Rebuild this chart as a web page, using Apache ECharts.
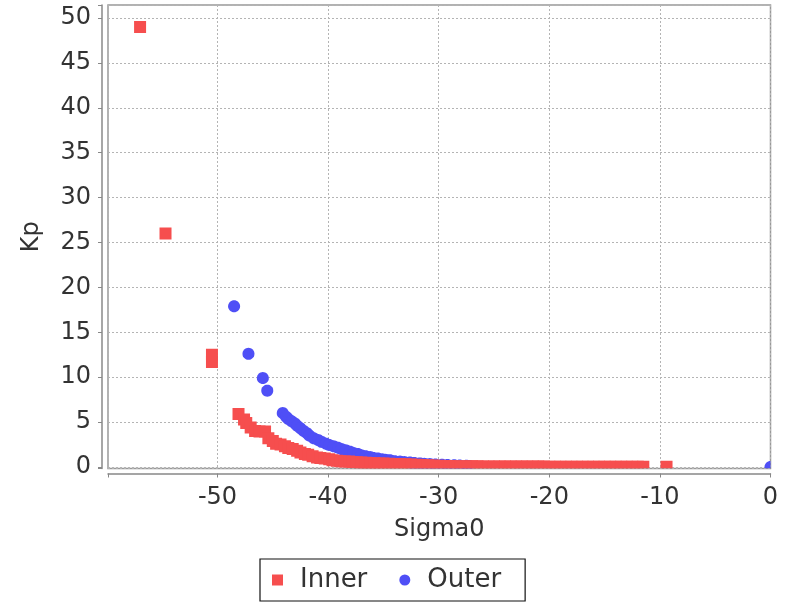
<!DOCTYPE html>
<html>
<head>
<meta charset="utf-8">
<script src="https://cdn.jsdelivr.net/npm/echarts@6/dist/echarts.min.js"></script>
<style>
html,body{margin:0;padding:0;background:#fff;}
#chart{width:795px;height:602px;}
</style>
</head>
<body>
<div id="chart"></div>
<script>
// Inner series (red squares): Sigma0 values and Kp values
const innerX = [-57.0, -54.7, -50.5, -50.5, -48.1, -47.6, -47.4, -47.0, -46.6, -46.2, -45.7, -45.4, -45.0, -44.7, -44.3, -43.9, -43.6, -43.2, -42.8, -42.5, -42.1, -41.8, -41.4, -41.0, -40.7, -40.3, -39.9, -39.6, -39.2, -38.9, -38.5, -38.1, -37.8, -37.4, -37.0, -36.6, -36.2, -35.8, -35.4, -35.0, -34.5, -34.0, -33.5, -33.0, -32.5, -32.0, -31.5, -31.0, -30.5, -30.0, -29.5, -29.0, -28.5, -28.0,
  -27.5, -27.0, -26.5, -26.0, -25.5, -25.0, -24.5, -24.0, -23.5, -23.0, -22.5, -22.0, -21.5, -21.0, -20.5, -20.0, -19.5, -19.0, -18.5, -18.0, -17.5, -17.0, -16.5, -16.0, -15.5, -15.0, -14.5, -14.0, -13.5, -13.0, -12.5, -12.0, -11.5, -9.4];
const innerY = [49.0, 26.0, 12.5, 11.7, 5.9, 5.3, 4.9, 4.4, 4.0, 3.95, 3.95, 3.2, 2.9, 2.6, 2.5, 2.3, 2.1, 2.0, 1.8, 1.6, 1.45, 1.35, 1.2, 1.05, 1.0, 0.95, 0.85, 0.75, 0.7, 0.65, 0.6, 0.6, 0.55, 0.52, 0.5, 0.47, 0.45, 0.42, 0.4, 0.38, 0.36, 0.34, 0.32, 0.3, 0.27, 0.25, 0.22, 0.2, 0.17, 0.14, 0.12, 0.1, 0.09, 0.08,
  0.07, 0.07, 0.07, 0.06, 0.06, 0.06, 0.05, 0.05, 0.05, 0.05, 0.04, 0.04, 0.04, 0.04, 0.04, 0.03, 0.03, 0.03, 0.03, 0.03, 0.03, 0.03, 0.02, 0.02, 0.02, 0.02, 0.02, 0.02, 0.02, 0.02, 0.02, 0.02, 0.02, 0.02];
// Outer series (blue circles)
const outerX = [-48.5, -47.2, -45.9, -45.5, -44.1, -43.8, -43.6, -43.3, -43.0, -42.8, -42.5, -42.2, -41.9, -41.7, -41.3, -40.9, -40.6, -40.2, -39.9, -39.5, -39.1, -38.8, -38.4, -38.0, -37.7, -37.3, -37.0, -36.6, -36.2, -35.9, -35.5, -35.1, -34.8, -34.4, -34.0, -33.5, -33.1, -32.6, -32.2, -31.7, -31.3, -30.8, -30.3, -29.7, -29.2, -28.6, -28.1, -27.5, -27.3, 0.0];
const outerY = [17.9, 12.6, 9.9, 8.5, 6.0, 5.6, 5.35, 5.1, 4.85, 4.6, 4.3, 4.0, 3.75, 3.5, 3.2, 3.0, 2.8, 2.6, 2.45, 2.3, 2.15, 2.0, 1.85, 1.7, 1.55, 1.45, 1.3, 1.2, 1.1, 1.0, 0.95, 0.85, 0.8, 0.75, 0.65, 0.6, 0.55, 0.5, 0.45, 0.4, 0.35, 0.32, 0.28, 0.25, 0.22, 0.2, 0.17, 0.14, 0.12, 0.0];

const seriesNames = ['Inner', 'Outer'];
const xName = 'Sigma0';
const yName = 'Kp';

const zip = (xs, ys) => xs.map((x, i) => [x, ys[i]]);
const FONT = 'DejaVu Sans';
const TXT = '#333';
const AXC = '#888';
const SYM = 12;

// clamp polygon vertices into the plot rectangle (exact for rects, close for circles)
function clampPts(pts, cs) {
  const x0 = cs.x, x1 = cs.x + cs.width, y0 = cs.y, y1 = cs.y + cs.height;
  return pts.map(([x, y]) => [Math.min(x1, Math.max(x0, x)), Math.min(y1, Math.max(y0, y))]);
}
function renderSquare(params, api) {
  const p = api.coord([api.value(0), api.value(1)]);
  const h = SYM / 2;
  const pts = clampPts([[p[0] - h, p[1] - h], [p[0] + h, p[1] - h], [p[0] + h, p[1] + h], [p[0] - h, p[1] + h]], params.coordSys);
  return {type: 'polygon', shape: {points: pts}, style: {fill: api.visual('color')}};
}
function renderCircle(params, api) {
  const p = api.coord([api.value(0), api.value(1)]);
  const r = SYM / 2, pts = [];
  for (let i = 0; i < 32; i++) {
    const a = i / 32 * Math.PI * 2;
    pts.push([p[0] + r * Math.cos(a), p[1] + r * Math.sin(a)]);
  }
  return {type: 'polygon', shape: {points: clampPts(pts, params.coordSys)}, style: {fill: api.visual('color')}};
}

const chart = echarts.init(document.getElementById('chart'), null, {renderer: 'canvas'});
chart.setOption({
  animation: false,
  backgroundColor: '#fff',
  grid: {left: 108, right: 24.5, top: 5, bottom: 133.5, show: true, borderColor: '#999', borderWidth: 1.5, backgroundColor: '#fff'},
  legend: {
    left: 260, top: 559,
    data: [
      {name: seriesNames[0], icon: 'rect'},
      {name: seriesNames[1], icon: 'circle'}
    ],
    itemWidth: 11, itemHeight: 11, itemGap: 32,
    padding: [8, 24, 8, 12],
    borderColor: '#111', borderWidth: 1.2,
    textStyle: {fontFamily: FONT, fontSize: 26, color: TXT, padding: [0, 0, 0, 12]}
  },
  xAxis: {
    type: 'value', min: -59.9, max: 0, splitNumber: 6,
    offset: 5,
    name: xName, nameLocation: 'middle', nameGap: 44,
    nameTextStyle: {fontFamily: FONT, fontSize: 24, color: TXT},
    axisLine: {show: true, onZero: false, lineStyle: {color: AXC, width: 1.5}},
    axisTick: {show: true, length: 4, lineStyle: {color: AXC}},
    axisLabel: {fontFamily: FONT, fontSize: 24, color: TXT, margin: 12,
      formatter: v => (Math.abs(v % 10) < 1e-6 ? String(Math.round(v)) : '')},
    splitLine: {show: true, lineStyle: {color: '#b4b4b4', type: [2, 2], width: 1}}
  },
  yAxis: {
    type: 'value', min: -0.17, max: 51.45, splitNumber: 10,
    offset: 6,
    name: yName, nameLocation: 'middle', nameGap: 58,
    nameTextStyle: {fontFamily: FONT, fontSize: 24, color: TXT},
    axisLine: {show: true, onZero: false, lineStyle: {color: AXC, width: 1.5}},
    axisTick: {show: true, length: 4, lineStyle: {color: AXC}},
    axisLabel: {fontFamily: FONT, fontSize: 24, color: TXT, margin: 11,
      formatter: v => (Math.abs(v % 5) < 1e-6 ? String(Math.round(v)) : '')},
    splitLine: {show: true, lineStyle: {color: '#b4b4b4', type: [2, 2], width: 1}}
  },
  series: [
    {name: seriesNames[1], type: 'custom', renderItem: renderCircle, clip: true, z: 2,
      encode: {x: 0, y: 1}, itemStyle: {color: '#4F4FF6'}, data: zip(outerX, outerY)},
    {name: seriesNames[0], type: 'custom', renderItem: renderSquare, clip: true, z: 3,
      encode: {x: 0, y: 1}, itemStyle: {color: '#F64E4E'}, data: zip(innerX, innerY)}
  ]
});
</script>
</body>
</html>
